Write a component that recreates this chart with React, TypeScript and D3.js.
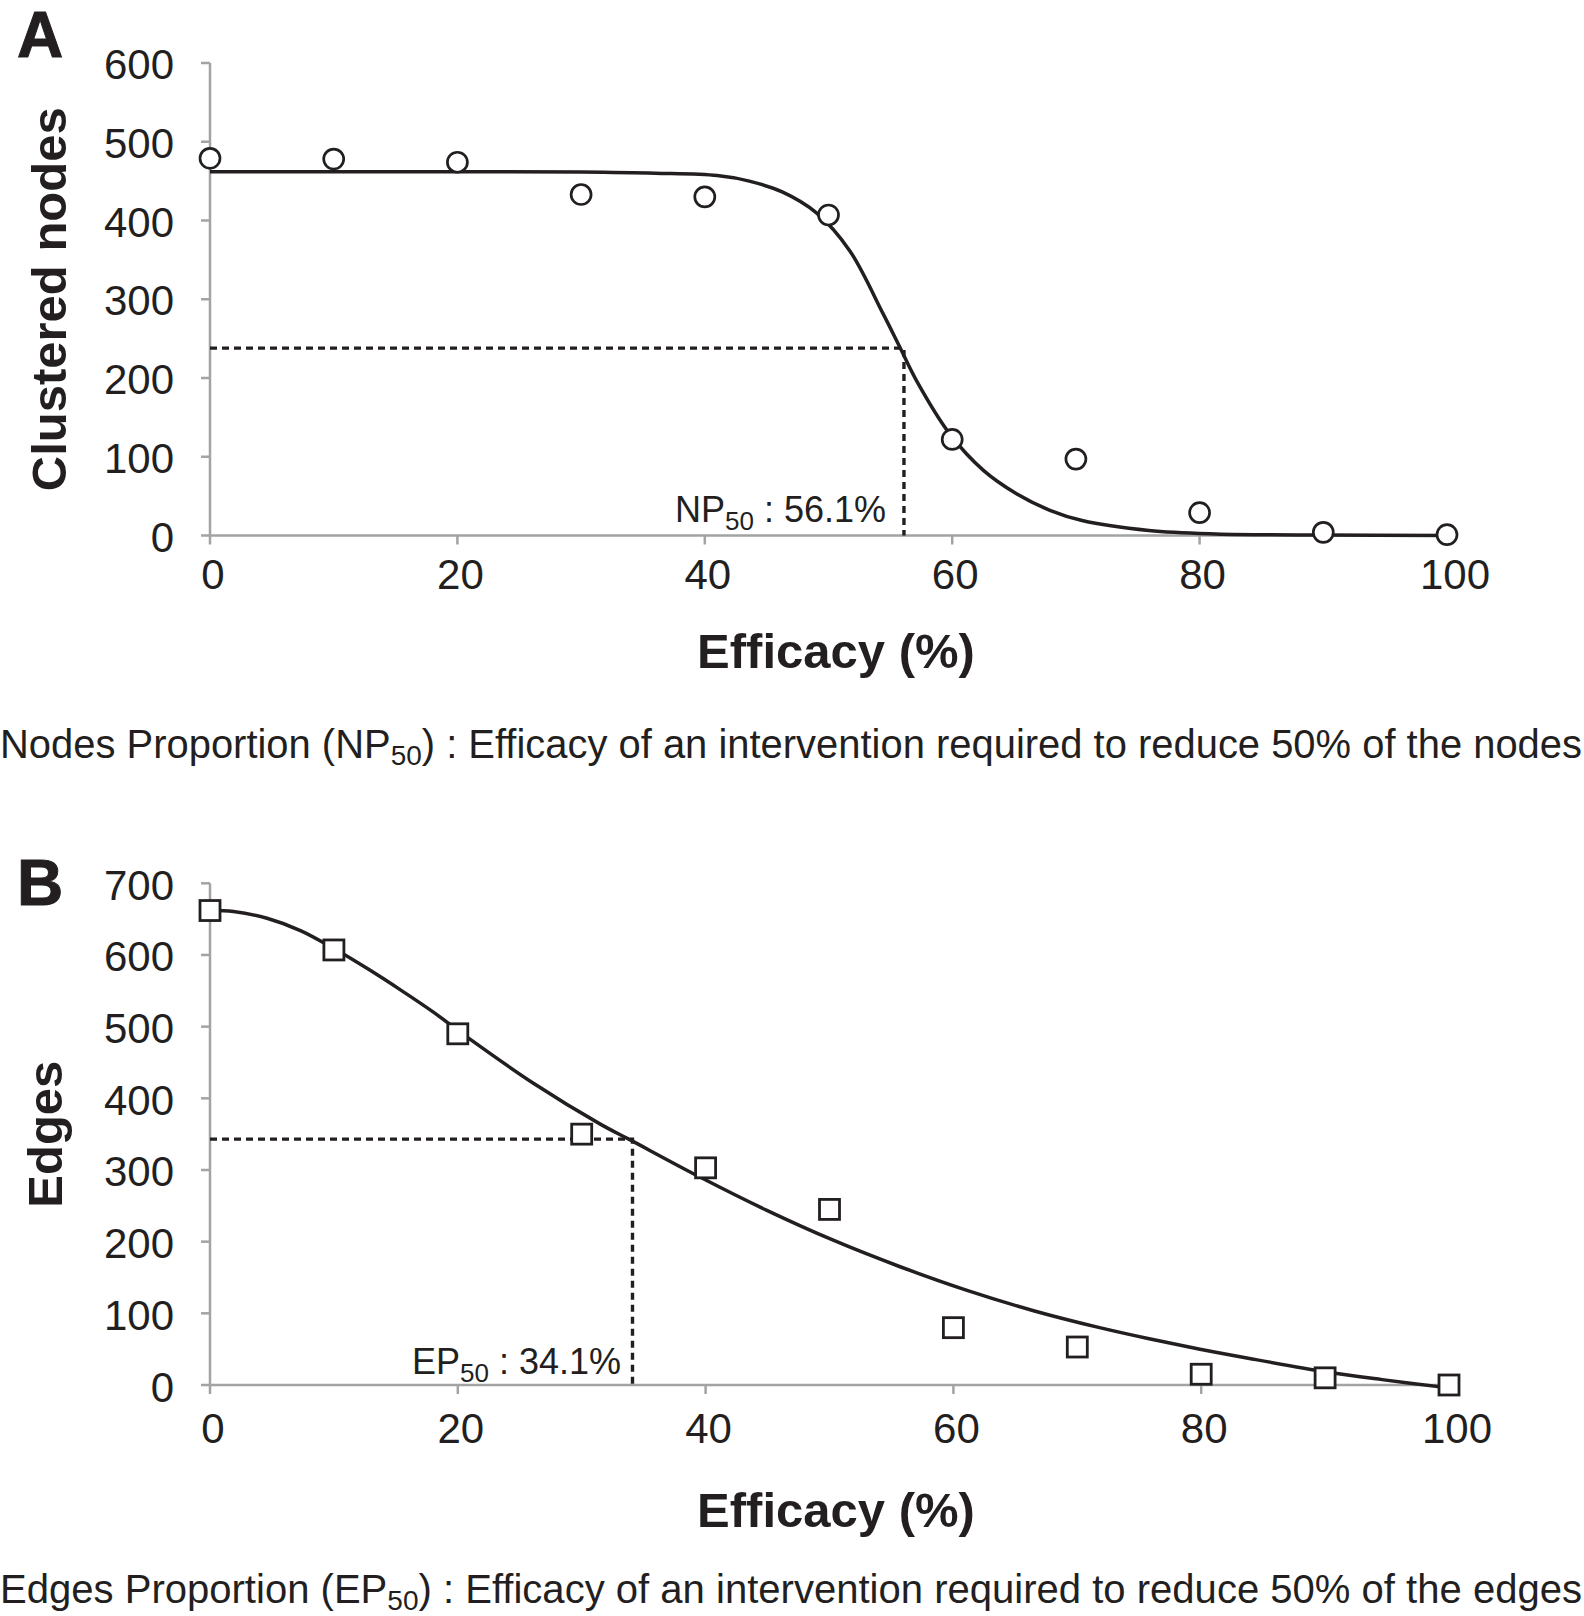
import React from "react";
import * as d3 from "d3";

// ---------- Data ----------
const efficacyTicks = [0, 20, 40, 60, 80, 100];
const efficacy = [0, 10, 20, 30, 40, 50, 60, 70, 80, 90, 100];

// Panel A: clustered nodes
const clusteredNodes = [479, 478, 474, 433, 430, 407, 122, 97, 29, 4, 1];
const nodesTicks = [0, 100, 200, 300, 400, 500, 600];
const nodesFitX = [0, 10, 20, 30, 36, 41, 43.6, 46.3, 49, 51.7, 54.4, 55.8, 57.1, 59.8, 62.5, 65.2, 67.9, 70.5, 75.9, 81.3, 90, 100];
const nodesFitY = [462, 462, 462, 461.5, 460, 457, 450, 436, 410, 362, 282, 238, 197, 129, 83, 53, 32, 19, 6.4, 2, 0.5, 0];
const np50 = 56.1;
const npHalf = 238;

// Panel B: edges
const edges = [662, 607, 490, 350, 303, 245, 80, 53, 15, 10, 0];
const edgesTicks = [0, 100, 200, 300, 400, 500, 600, 700];
const edgesFitX = [0, 1.9, 4.6, 7.3, 10, 12.7, 15.4, 18, 20.7, 26.1, 31.5, 33.8, 39.5, 44.9, 50.3, 55.7, 61.1, 66.4, 71.8, 75.8, 79.9, 83.9, 90.2, 94.6, 100];
const edgesFitY = [662.5, 660.6, 651.2, 634, 609, 581, 551, 520.6, 486, 421, 364, 343, 290.5, 244, 202, 165, 132, 104, 80, 64.5, 50, 37, 18, 7.5, -4];
const ep50 = 34.1;
const epHalf = 343;

const INK = "#231f20";
const AXIS = "#a3a3a3";
const FONT = "'Liberation Sans', Arial, Helvetica, sans-serif";

type PanelProps = {
  letter: string;
  yLabel: string;
  yMax: number;
  yTicks: number[];
  values: number[];
  fitX: number[];
  fitY: number[];
  x50: number;
  yHalf: number;
  labelPrefix: string;
  labelValue: string;
  marker: "circle" | "square";
  xRange: [number, number];
  yRange: [number, number];
  xLabelBaseline: number;
  titleBaseline: number;
  letterBaseline: number;
  yLabelBaselineX: number;
  yTickLabelDy: number;
  labelRightX: number;
  labelBaseline: number;
};

function Panel(p: PanelProps) {
  const x = d3.scaleLinear().domain([0, 100]).range(p.xRange);
  const y = d3.scaleLinear().domain([0, p.yMax]).range(p.yRange);
  const fitPts: [number, number][] = p.fitX.map((v, i) => [v, p.fitY[i]]);
  const line = d3
    .line<[number, number]>()
    .x((d) => x(d[0]))
    .y((d) => y(d[1]))
    .curve(d3.curveCatmullRom.alpha(0.5));
  const x0 = x(0);
  const yBase = y(0);
  const yMid = (p.yRange[0] + p.yRange[1]) / 2;
  return (
    <g>
      <text
        x={17}
        y={p.letterBaseline}
        fontFamily={FONT}
        fontWeight="bold"
        fontSize={64}
        fill={INK}
        stroke={INK}
        strokeWidth={1}
      >
        {p.letter}
      </text>
      {/* y axis */}
      <line x1={x0} x2={x0} y1={yBase} y2={y(p.yMax)} stroke={AXIS} strokeWidth={2.5} />
      {p.yTicks.map((t) => (
        <g key={"yt" + t}>
          <line x1={x0 - 9} x2={x0} y1={y(t)} y2={y(t)} stroke={AXIS} strokeWidth={2.5} />
          <text x={174} y={y(t) + p.yTickLabelDy} textAnchor="end" fontFamily={FONT} fontSize={42} fill={INK}>
            {t}
          </text>
        </g>
      ))}
      {/* x axis */}
      <line x1={x0} x2={x(100)} y1={yBase} y2={yBase} stroke={AXIS} strokeWidth={2.5} />
      {efficacyTicks.map((t) => (
        <g key={"xt" + t}>
          <line x1={x(t)} x2={x(t)} y1={yBase} y2={yBase + 9} stroke={AXIS} strokeWidth={2.5} />
          <text
            x={x(t) + (t === 100 ? 8 : 3)}
            y={p.xLabelBaseline}
            textAnchor="middle"
            fontFamily={FONT}
            fontSize={42}
            fill={INK}
          >
            {t}
          </text>
        </g>
      ))}
      <text
        x={836}
        y={p.titleBaseline}
        textAnchor="middle"
        fontFamily={FONT}
        fontWeight="bold"
        fontSize={49}
        fill={INK}
      >
        Efficacy (%)
      </text>
      <text
        transform={`translate(${p.yLabelBaselineX},${yMid}) rotate(-90)`}
        textAnchor="middle"
        fontFamily={FONT}
        fontWeight="bold"
        fontSize={49}
        fill={INK}
      >
        {p.yLabel}
      </text>
      {/* dashed guides */}
      <path
        d={`M${x0},${y(p.yHalf)}H${x(p.x50)}V${yBase}`}
        fill="none"
        stroke={INK}
        strokeWidth={3.4}
        strokeDasharray="7 5"
      />
      {/* fit curve */}
      <path d={line(fitPts) || ""} fill="none" stroke={INK} strokeWidth={3.5} />
      {/* markers */}
      {p.values.map((v, i) =>
        p.marker === "circle" ? (
          <circle key={i} cx={x(efficacy[i])} cy={y(v)} r={10} fill="#fff" stroke={INK} strokeWidth={2.7} />
        ) : (
          <rect
            key={i}
            x={x(efficacy[i]) - 10}
            y={y(v) - 10}
            width={20}
            height={20}
            fill="#fff"
            stroke={INK}
            strokeWidth={2.8}
          />
        )
      )}
      <text x={p.labelRightX} y={p.labelBaseline} textAnchor="end" fontFamily={FONT} fontSize={36} fill={INK}>
        {p.labelPrefix}
        <tspan fontSize={26} dy={8}>
          50
        </tspan>
        <tspan dy={-8}>{" : " + p.labelValue}</tspan>
      </text>
    </g>
  );
}

function Caption({ y, prefix, sub, rest }: { y: number; prefix: string; sub: string; rest: string }) {
  return (
    <text
      x={0}
      y={y}
      fontFamily={FONT}
      fontSize={40}
      fill={INK}
      textLength={1582}
      lengthAdjust="spacingAndGlyphs"
    >
      {prefix}
      <tspan fontSize={28} dy={7}>
        {sub}
      </tspan>
      <tspan dy={-7}>{rest}</tspan>
    </text>
  );
}

export default function App() {
  return (
    <div style={{ position: "absolute", left: 0, top: 0 }}>
      <svg width={1584} height={1616} viewBox="0 0 1584 1616" style={{ display: "block", background: "#fff" }}>
        <rect width={1584} height={1616} fill="#fff" />
        <Panel
          letter="A"
          yLabel="Clustered nodes"
          yMax={600}
          yTicks={nodesTicks}
          values={clusteredNodes}
          fitX={nodesFitX}
          fitY={nodesFitY}
          x50={np50}
          yHalf={npHalf}
          labelPrefix="NP"
          labelValue="56.1%"
          marker="circle"
          xRange={[210, 1447]}
          yRange={[535.5, 63]}
          xLabelBaseline={589}
          titleBaseline={668}
          letterBaseline={57}
          yLabelBaselineX={66}
          yTickLabelDy={16}
          labelRightX={886}
          labelBaseline={522}
        />
        <Caption
          y={758}
          prefix="Nodes Proportion (NP"
          sub="50"
          rest=") : Efficacy of an intervention required to reduce 50% of the nodes"
        />
        <Panel
          letter="B"
          yLabel="Edges"
          yMax={700}
          yTicks={edgesTicks}
          values={edges}
          fitX={edgesFitX}
          fitY={edgesFitY}
          x50={ep50}
          yHalf={epHalf}
          labelPrefix="EP"
          labelValue="34.1%"
          marker="square"
          xRange={[210, 1449]}
          yRange={[1385, 883.3]}
          xLabelBaseline={1443}
          titleBaseline={1527}
          letterBaseline={905}
          yLabelBaselineX={62}
          yTickLabelDy={16.5}
          labelRightX={621}
          labelBaseline={1374}
        />
        <Caption
          y={1603}
          prefix="Edges Proportion (EP"
          sub="50"
          rest=") : Efficacy of an intervention required to reduce 50% of the edges"
        />
      </svg>
    </div>
  );
}
